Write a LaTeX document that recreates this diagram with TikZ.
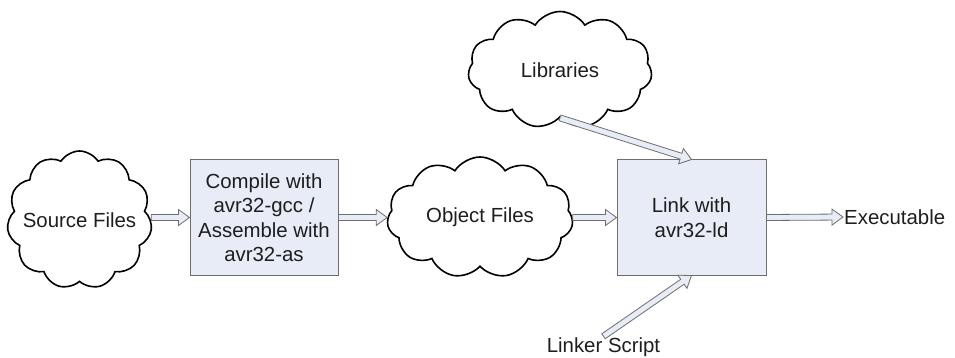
\documentclass[tikz,border=0pt]{standalone}
\usepackage{fontspec}
\setmainfont{Liberation Sans}
\usetikzlibrary{shapes.symbols,calc}
\definecolor{boxfill}{RGB}{232,236,246}
\definecolor{boxline}{RGB}{110,110,110}
\definecolor{txt}{RGB}{30,30,30}
\newcommand{\zerow}[1]{\makebox[0pt][c]{#1}}
\tikzset{
  lbl/.style={text=txt, font=\fontsize{20.4}{24.5}\selectfont, align=center},
  cloudnode/.style={lbl, cloud, cloud puffs=11, cloud puff arc=115, cloud ignores aspect, draw=black, line width=1.6pt, fill=white, inner sep=0pt},
  procbox/.style={lbl, draw=boxline, fill=boxfill, line width=1pt, inner sep=0pt},
  blk/.style={draw=boxline, fill=boxfill, line width=0.8pt, line join=miter,
    to path={let \p1=(\tikztostart), \p2=(\tikztotarget),
      \n1={atan2(\y2-\y1,\x2-\x1)}, \n2={veclen(\x2-\x1,\y2-\y1)} in
      ([shift={(\p1)},rotate=\n1]0pt,-3pt) -- ([shift={(\p1)},rotate=\n1]\n2-11pt,-3pt)
      -- ([shift={(\p1)},rotate=\n1]\n2-11pt,-8pt) -- ([shift={(\p1)},rotate=\n1]\n2,0pt)
      -- ([shift={(\p1)},rotate=\n1]\n2-11pt,8pt) -- ([shift={(\p1)},rotate=\n1]\n2-11pt,3pt)
      -- ([shift={(\p1)},rotate=\n1]0pt,3pt) -- cycle}}
}
\begin{document}
\begin{tikzpicture}[x=1pt,y=-1pt]
\useasboundingbox (0,0) rectangle (955,358);
\node[cloudnode, minimum width=145pt, minimum height=138pt] (src) at (79.5,220) {\zerow{Source Files}};
\node[procbox, minimum width=148pt, minimum height=115pt] (cmp) at (264,217.5) {Compile with\\avr32-gcc /\\Assemble with\\avr32-as};
\node[cloudnode, minimum width=186pt, minimum height=121pt] (obj) at (480,217.5) {\zerow{Object Files}};
\node[cloudnode, minimum width=184pt, minimum height=117pt] (lib) at (560,70) {\zerow{Libraries}};
\node[procbox, minimum width=149pt, minimum height=115pt] (lnk) at (691.5,217.5) {Link with\\avr32-ld};
\node[lbl, inner sep=1pt] (ls) at (603.5,347) {Linker Script};
\node[lbl, inner sep=1pt, anchor=west] (exe) at (843,217) {Executable};
\draw[blk] (src.east |- cmp.west) to (cmp.west);
\draw[blk] (cmp.east) to (obj.west);
\draw[blk] (obj.east) to (lnk.west);
\draw[blk] (lib.south) to (lnk.north);
\draw[blk] (ls.north) to (lnk.south);
\draw[blk] (lnk.east) to (exe.west);
\end{tikzpicture}
\end{document}
